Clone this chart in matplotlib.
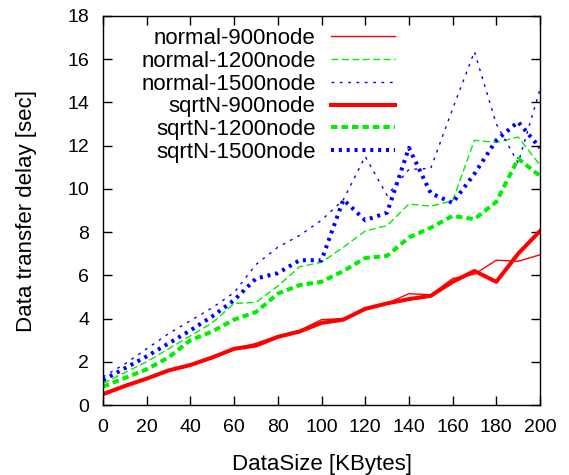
import matplotlib
matplotlib.use("Agg")
import matplotlib.pyplot as plt

plt.rcParams['font.family'] = ['Liberation Sans', 'DejaVu Sans']

data_size = [0, 10, 20, 30, 40, 50, 60, 70, 80, 90, 100,
             110, 120, 130, 140, 150, 160, 170, 180, 190, 200]

normal_900 = [0.55, 0.9, 1.25, 1.55, 1.85, 2.15, 2.6, 2.85, 3.2, 3.45, 3.95,
              4.0, 4.4, 4.7, 5.15, 5.1, 5.85, 6.05, 6.7, 6.65, 6.95]
normal_1200 = [1.0, 1.5, 2.0, 2.6, 3.2, 3.8, 4.7, 4.75, 5.5, 6.4, 6.6,
               7.3, 8.05, 8.3, 9.3, 9.2, 9.45, 12.25, 12.15, 12.4, 11.1]
normal_1500 = [1.3, 1.9, 2.6, 3.3, 3.9, 4.5, 5.2, 6.5, 7.3, 7.85, 8.55,
               9.5, 11.5, 9.7, 10.9, 10.95, 13.7, 16.35, 13.0, 11.2, 14.6]
sqrt_900 = [0.5, 0.88, 1.22, 1.6, 1.85, 2.2, 2.6, 2.75, 3.15, 3.4, 3.8,
            3.95, 4.45, 4.7, 4.9, 5.05, 5.7, 6.2, 5.7, 7.0, 8.05]
sqrt_1200 = [0.85, 1.25, 1.65, 2.2, 3.0, 3.4, 3.95, 4.3, 5.15, 5.55, 5.7,
             6.2, 6.8, 6.9, 7.75, 8.2, 8.75, 8.6, 9.4, 11.4, 10.6]
sqrt_1500 = [1.15, 1.7, 2.25, 2.85, 3.45, 4.1, 4.85, 5.85, 6.1, 6.7, 6.7,
             9.5, 8.55, 8.9, 11.9, 9.8, 9.35, 10.7, 12.25, 13.1, 11.9]

fig = plt.figure(figsize=(5.69, 4.75), dpi=100)
ax = fig.add_axes([103/569, 1 - 405/475, 437/569, 389/475])

ax.plot(data_size, normal_900, color='#ff0000', lw=1.0, label='normal-900node')
ax.plot(data_size, normal_1200, color='#00ee00', lw=1.0, dashes=(5, 2.5), label='normal-1200node')
ax.plot(data_size, normal_1500, color='#0000ff', lw=1.0, dashes=(2, 4), label='normal-1500node')
ax.plot(data_size, sqrt_900, color='#ff0000', lw=2.9, label='sqrtN-900node')
ax.plot(data_size, sqrt_1200, color='#00ee00', lw=2.9, dashes=(1.6, 1.0), label='sqrtN-1200node')
ax.plot(data_size, sqrt_1500, color='#0000ff', lw=2.9, dashes=(0.75, 1.2), label='sqrtN-1500node')

ax.set_xlim(0, 200)
ax.set_ylim(0, 18)
ax.set_xticks(range(0, 201, 20))
ax.set_yticks(range(0, 19, 2))
ax.tick_params(direction='in', length=6.5, width=1, top=True, right=True,
               labelsize=14, pad=10)
for s in ax.spines.values():
    s.set_linewidth(1.0)

ax.set_xlabel('DataSize [KBytes]', fontsize=16, labelpad=13)
ax.set_ylabel('Data transfer delay [sec]', fontsize=16, labelpad=22)

ax.legend(loc='upper right', bbox_to_anchor=(0.689, 0.992), frameon=False,
          markerfirst=False, fontsize=16, handlelength=2.9, handletextpad=0.68,
          labelspacing=0.08, borderaxespad=0.0)

fig.savefig('out.png', dpi=100)
